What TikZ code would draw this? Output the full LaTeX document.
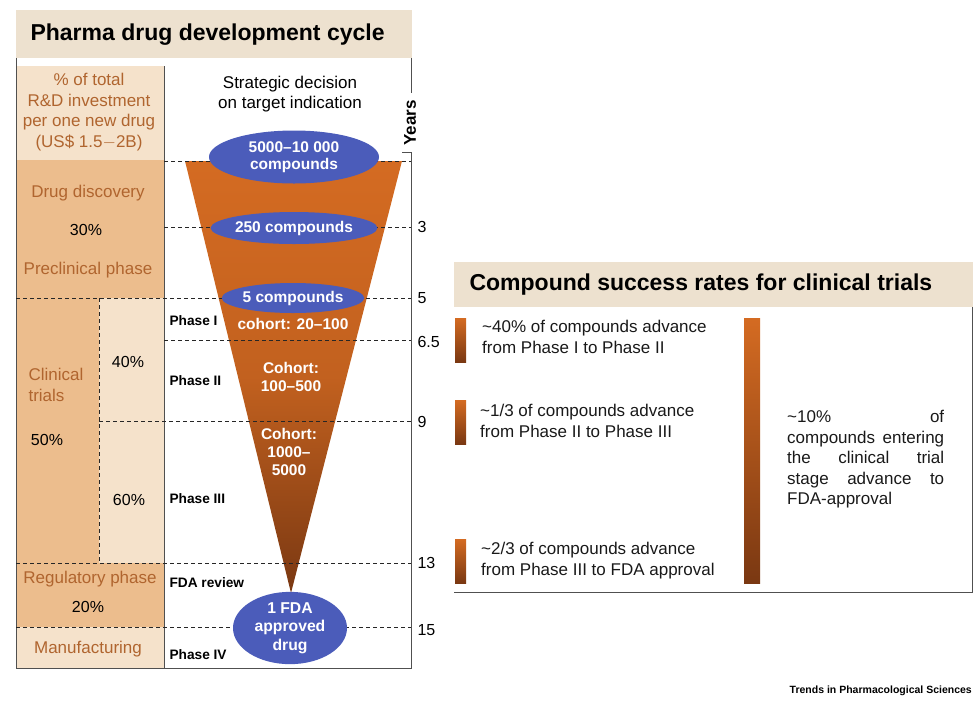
\documentclass[tikz,border=0pt]{standalone}
\usepackage{fontspec}
\setmainfont{Liberation Sans}
\usetikzlibrary{shapes.geometric}
\definecolor{band}{HTML}{EDE1CF}
\definecolor{tanc}{HTML}{ECBD8D}
\definecolor{lite}{HTML}{F5E2CB}
\definecolor{brn}{HTML}{B0652F}
\definecolor{blu}{HTML}{4B5CBA}
\definecolor{ftop}{HTML}{D46B22}
\definecolor{fbot}{HTML}{7A3812}
\definecolor{frm}{HTML}{505050}
\tikzset{
  frame/.style={draw=frm, line width=1pt},
  dline/.style={draw=black!85, line width=0.9pt, dash pattern=on 4pt off 3pt},
  blob/.style={ellipse, fill=blu, inner sep=0pt, text=white, align=center,
     font=\bfseries\fontsize{15.5}{17}\selectfont},
  fun/.style={text=white, align=center, font=\bfseries\fontsize{15.5}{18}\selectfont},
  lab/.style={text=brn, align=center, font=\fontsize{17}{20.5}\selectfont},
  pct/.style={text=black, font=\fontsize{16}{18}\selectfont},
  ph/.style={anchor=west, text=black, font=\bfseries\fontsize{13.7}{15}\selectfont},
  yr/.style={anchor=west, text=black, font=\fontsize{16}{18}\selectfont},
  rt/.style={anchor=north west, align=left, text=black!90, font=\fontsize{17}{21}\selectfont, inner sep=0pt},
  hd/.style={anchor=west, text=black, font=\bfseries\fontsize{23}{26}\selectfont},
}
\begin{document}
\begin{tikzpicture}[x=1pt,y=-1pt]
\useasboundingbox (0,0) rectangle (980,716);
% ---------- left panel ----------
\fill[band] (16,10) rectangle (412,58);
\node[hd] (title1) at (27,35) {Pharma drug development cycle};
\fill[lite] (17,66) rectangle (164,160);
\fill[tanc] (17,160) rectangle (164,298);
\fill[tanc] (17,298) rectangle (99,563);
\fill[lite] (99,298) rectangle (164,563);
\fill[tanc] (17,563) rectangle (164,627);
\fill[lite] (17,627) rectangle (164,668);
% funnel
\shade[top color=ftop, bottom color=fbot, middle color=ftop!80!fbot] (185,161) -- (402,161) -- (291,593) -- cycle;
% frame
\draw[frame] (16,58) -- (16,668) -- (411,668) -- (411,152) -- (402,152);
\draw[frame] (411,58) -- (411,93);
\draw[frame] (164,66) -- (164,668);
% dashed lines
\draw[dline] (164,161) -- (411,161);
\draw[dline] (164,227) -- (411,227);
\draw[dline] (16,298) -- (411,298);
\draw[dline] (164,340) -- (411,340);
\draw[dline] (99,421) -- (411,421);
\draw[dline] (16,563) -- (411,563);
\draw[dline] (16,627) -- (411,627);
\draw[dline] (99,298) -- (99,563);
% ellipses
\node[blob, minimum width=170pt, minimum height=53pt] (e1) at (294,157) {5000--10 000\\compounds};
\node[blob, minimum width=156pt, minimum height=32pt] (e2) at (294,228) {250 compounds};
\node[blob, minimum width=140pt, minimum height=30pt] (e3) at (293,298) {5 compounds};
\node[blob, minimum width=114pt, minimum height=68pt, font=\bfseries\fontsize{15.7}{18.5}\selectfont] (e4) at (290,628) {1 FDA\\approved\\drug};
% funnel texts
\node[fun] (c1) at (293,324) {cohort: 20--100};
\node[fun] (c2) at (291,377) {Cohort:\\100--500};
\node[fun] (c3) at (289,452) {Cohort:\\1000--\\5000};
% header texts
\node[align=center, font=\fontsize{17}{20.5}\selectfont] (strat) at (290,94) {Strategic decision\\on target indication};
\node[rotate=90, font=\bfseries\fontsize{17}{18}\selectfont] (years) at (410,123) {Years};
% left column
\node[lab] (pctl) at (89,112) {\% of total\\R\&D investment\\per one new drug\\(US\$ 1.5$-$2B)};
\node[lab] (dd) at (88,193) {Drug discovery};
\node[pct] (p30) at (86,230) {30\%};
\node[lab] (pre) at (88,270) {Preclinical phase};
\node[lab, align=left, anchor=west] (ct) at (25,385) {Clinical\\trials};
\node[pct] (p50) at (47,440) {50\%};
\node[pct] (p40) at (128,362) {40\%};
\node[pct] (p60) at (129,500) {60\%};
\node[lab] (reg) at (90,579) {Regulatory phase};
\node[pct] (p20) at (88,607) {20\%};
\node[lab] (man) at (88,649) {Manufacturing};
% phases
\node[ph] (ph1) at (166,321) {Phase I};
\node[ph] (ph2) at (166,381) {Phase II};
\node[ph] (ph3) at (166,499) {Phase III};
\node[ph] (fda) at (166,583) {FDA review};
\node[ph] (ph4) at (166,655) {Phase IV};
% years
\node[yr] (y3) at (414,227) {3};
\node[yr] (y5) at (414,298) {5};
\node[yr] (y65) at (414,342) {6.5};
\node[yr] (y9) at (414,422) {9};
\node[yr] (y13) at (414,563) {13};
\node[yr] (y15) at (414,630) {15};
% ---------- right panel ----------
\fill[band] (454,262) rectangle (973,307);
\node[hd] (title2) at (466,285) {Compound success rates for clinical trials};
\draw[frame] (972,307) -- (972,592) -- (454,592);
\shade[top color=ftop, bottom color=fbot] (455,318) rectangle (466,362);
\shade[top color=ftop, bottom color=fbot] (455,400) rectangle (466,444);
\shade[top color=ftop, bottom color=fbot] (455,539) rectangle (466,583);
\shade[top color=ftop, bottom color=fbot] (744,318) rectangle (760,583);
\node[rt] (r1) at (482,320) {\textasciitilde40\% of compounds advance\\from Phase I to Phase II};
\node[rt] (r2) at (480,404) {\textasciitilde1/3 of compounds advance\\from Phase II to Phase III};
\node[rt] (r3) at (481,542) {\textasciitilde2/3 of compounds advance\\from Phase III to FDA approval};
\node[rt, font=\fontsize{17}{20.5}\selectfont] (r4) at (787,410) {%
\hbox to 157pt{\textasciitilde10\%\hfill of}\\
\hbox to 157pt{compounds\hfill entering}\\
\hbox to 157pt{the\hfill clinical\hfill trial}\\
\hbox to 157pt{stage\hfill advance\hfill to}\\
FDA-approval};
\node[anchor=east, font=\bfseries\fontsize{10.5}{12}\selectfont, inner sep=0pt] (foot) at (972,691) {Trends in Pharmacological Sciences};
\end{tikzpicture}
\end{document}
